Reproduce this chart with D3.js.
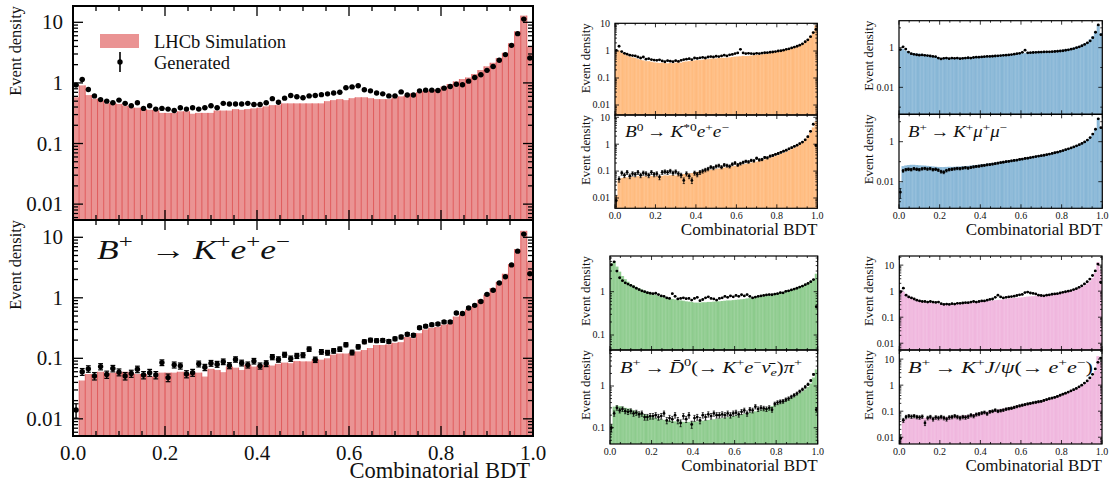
<!DOCTYPE html>
<meta charset="utf-8">
<style>
body { margin: 0; background: #fff; }
svg text { font-family: "Liberation Serif", "Times New Roman", serif; fill: #111; }
</style>
<body>
<script src="https://d3js.org/d3.v7.min.js"></script>
<script>
// 75 bins on [0, 1] of the combinatorial BDT output
const nBins = 75;
const xTicks = [0, 0.2, 0.4, 0.6, 0.8, 1.0];
const xTickLabels = ["0.0", "0.2", "0.4", "0.6", "0.8", "1.0"];

// B+ -> K+ e+ e-  (large panel)
const mainTopSim = [0.58,0.91,0.63,0.55,0.51, 0.46,0.47,0.45,0.42,0.39, 0.39,0.37,0.36,0.35,0.32, 0.32,0.32,0.34,0.34,0.31, 0.32,0.32,0.32,0.35,0.35,
  0.35,0.37,0.36,0.37,0.38, 0.39,0.41,0.43,0.43,0.46, 0.46,0.46,0.46,0.46,0.46, 0.46,0.50,0.52,0.54,0.52, 0.56,0.58,0.58,0.56,0.54,
  0.54,0.54,0.57,0.60,0.62, 0.67,0.70,0.73,0.74,0.78, 0.87,0.96,1.06,1.16,1.23, 1.40,1.63,1.88,2.15,2.58, 3.14,4.5,7.1,12.9,4.0];
const mainTopGen = [0.92,1.14,0.78,0.61,0.53, 0.50,0.47,0.52,0.46,0.42, 0.47,0.38,0.42,0.37,0.38, 0.37,0.35,0.39,0.37,0.39, 0.37,0.39,0.42,0.39,0.46,
  0.45,0.45,0.45,0.46,0.44, 0.44,0.47,0.55,0.48,0.56, 0.62,0.59,0.57,0.61,0.62, 0.64,0.66,0.68,0.70,0.83, 0.86,0.90,0.77,0.74,0.68,
  0.66,0.61,0.61,0.71,0.63, 0.63,0.74,0.76,0.76,0.75, 0.82,0.87,0.95,0.93,1.07, 1.23,1.36,1.61,1.86,2.37, 2.93,4.17,6.5,11.3,2.58];
const mainBotSim = [0.003,0.043,0.055,0.053,0.060, 0.056,0.058,0.058,0.060,0.056, 0.055,0.055,0.050,0.050,0.058, 0.058,0.058,0.060,0.056,0.056, 0.058,0.050,0.067,0.064,0.059,
  0.073,0.070,0.064,0.078,0.073, 0.076,0.078,0.076,0.081,0.085, 0.083,0.090,0.089,0.089,0.097, 0.095,0.10,0.115,0.12,0.12, 0.122,0.13,0.137,0.148,0.166,
  0.166,0.17,0.18,0.185,0.225, 0.215,0.26,0.30,0.32,0.33, 0.36,0.37,0.49,0.53,0.64, 0.72,0.93,1.13,1.45,1.83, 2.5,3.6,6.4,12.8,4.0];
const mainBotGen = [0.014,0.060,0.067,0.051,0.073, 0.054,0.068,0.059,0.051,0.056, 0.066,0.053,0.058,0.053,0.085, 0.048,0.078,0.075,0.055,0.058, 0.081,0.071,0.083,0.080,0.088,
  0.076,0.096,0.084,0.078,0.090, 0.075,0.082,0.105,0.096,0.115, 0.099,0.110,0.113,0.142,0.095, 0.128,0.124,0.133,0.142,0.168, 0.125,0.155,0.188,0.20,0.196,
  0.198,0.19,0.21,0.225,0.25, 0.24,0.32,0.34,0.36,0.37, 0.40,0.40,0.56,0.55,0.68, 0.75,0.87,1.14,1.33,1.76, 2.23,3.5,5.9,11.3,2.5];

// B0 -> K*0 e+ e-
const kstTopSim = [1.1,1.05,0.85,0.75,0.68, 0.62,0.58,0.55,0.5,0.47, 0.45,0.42,0.42,0.4,0.38, 0.37,0.36,0.37,0.36,0.35, 0.36,0.35,0.37,0.38,0.37,
  0.4,0.41,0.42,0.43,0.45, 0.46,0.46,0.48,0.5,0.5, 0.52,0.53,0.53,0.55,0.56, 0.56,0.57,0.58,0.6,0.62, 0.63,0.64,0.66,0.65,0.66,
  0.68,0.7,0.72,0.74,0.76, 0.78,0.8,0.83,0.86,0.9, 0.94,0.98,1.03,1.1,1.17, 1.25,1.35,1.47,1.62,1.8, 2.1,2.6,3.5,5.2,9.0];
const kstTopGen = [1.05,1.5,0.95,0.82,0.76, 0.7,0.68,0.66,0.6,0.55, 0.6,0.5,0.52,0.48,0.46, 0.45,0.47,0.43,0.4,0.44, 0.42,0.4,0.44,0.41,0.45,
  0.48,0.5,0.52,0.48,0.55, 0.53,0.56,0.58,0.55,0.6, 0.62,0.6,0.64,0.62,0.66, 0.7,0.66,0.72,0.75,0.8, 0.85,1.15,0.85,0.8,0.82,
  0.8,0.78,0.82,0.8,0.84, 0.86,0.87,0.9,0.92,0.95, 1.0,1.02,1.07,1.15,1.2, 1.3,1.4,1.5,1.65,1.85, 2.2,2.6,3.4,4.8,6.3];
const kstBotSim = [0.012,0.045,0.055,0.06,0.058, 0.06,0.062,0.06,0.065,0.062, 0.063,0.065,0.06,0.066,0.064, 0.065,0.068,0.066,0.07,0.068, 0.07,0.072,0.068,0.072,0.075,
  0.078,0.08,0.083,0.085,0.09, 0.094,0.098,0.1,0.104,0.108, 0.112,0.115,0.12,0.125,0.13, 0.135,0.14,0.145,0.15,0.157, 0.164,0.17,0.178,0.186,0.195,
  0.205,0.215,0.225,0.24,0.255, 0.27,0.29,0.31,0.33,0.36, 0.39,0.43,0.47,0.52,0.58, 0.65,0.73,0.83,0.95,1.1, 1.4,1.9,2.7,4.2,7.0];
const kstBotGen = [0.008,0.05,0.085,0.07,0.09, 0.065,0.08,0.075,0.09,0.07, 0.085,0.08,0.07,0.09,0.075, 0.08,0.06,0.09,0.095,0.09, 0.1,0.085,0.095,0.08,0.07,
  0.045,0.08,0.065,0.045,0.085, 0.075,0.09,0.1,0.11,0.12, 0.14,0.13,0.15,0.16,0.14, 0.17,0.16,0.15,0.18,0.2, 0.17,0.19,0.21,0.23,0.22,
  0.25,0.24,0.3,0.26,0.27, 0.32,0.31,0.36,0.38,0.42, 0.45,0.5,0.55,0.6,0.67, 0.74,0.83,0.92,1.05,1.2, 1.45,1.9,3.0,5.5,0.9];

// B+ -> K+ mu+ mu-
const mumuTopSim = [0.9,0.85,0.7,0.6,0.55, 0.52,0.5,0.5,0.48,0.45, 0.42,0.4,0.37,0.35,0.33, 0.3,0.3,0.29,0.3,0.3, 0.3,0.3,0.31,0.31,0.32,
  0.32,0.33,0.34,0.34,0.35, 0.36,0.37,0.38,0.38,0.4, 0.41,0.42,0.43,0.44,0.45, 0.46,0.47,0.48,0.49,0.5, 0.52,0.53,0.55,0.56,0.57,
  0.58,0.6,0.61,0.62,0.64, 0.66,0.68,0.7,0.72,0.75, 0.78,0.82,0.87,0.92,1.0, 1.1,1.22,1.38,1.6,1.9, 2.6,3.8,6.5,14,5.5];
const mumuTopGen = [0.8,1.1,0.85,0.6,0.5, 0.46,0.44,0.42,0.43,0.41, 0.4,0.38,0.36,0.35,0.3, 0.27,0.29,0.3,0.28,0.3, 0.29,0.3,0.28,0.29,0.3,
  0.31,0.3,0.32,0.33,0.33, 0.34,0.35,0.36,0.36,0.37, 0.38,0.39,0.4,0.41,0.42, 0.43,0.45,0.47,0.5,0.52, 0.58,0.75,0.55,0.56,0.57,
  0.58,0.59,0.6,0.61,0.62, 0.62,0.63,0.64,0.66,0.68, 0.7,0.74,0.78,0.84,0.9, 1.0,1.1,1.25,1.45,1.75, 2.2,3.2,6.0,14,4.5];
const mumuBotSim = [0.009,0.06,0.065,0.068,0.07, 0.07,0.068,0.066,0.065,0.064, 0.062,0.06,0.058,0.056,0.055, 0.054,0.054,0.055,0.056,0.055, 0.056,0.057,0.058,0.059,0.06,
  0.062,0.064,0.066,0.068,0.07, 0.073,0.076,0.079,0.082,0.086, 0.09,0.094,0.098,0.103,0.108, 0.113,0.118,0.124,0.13,0.137, 0.144,0.152,0.16,0.17,0.18,
  0.19,0.2,0.21,0.22,0.235, 0.25,0.27,0.29,0.31,0.34, 0.37,0.41,0.45,0.5,0.56, 0.63,0.72,0.83,0.98,1.2, 1.55,2.3,4.0,14,5.5];
const mumuBotGen = [0.003,0.035,0.04,0.042,0.04, 0.045,0.042,0.04,0.044,0.046, 0.043,0.045,0.04,0.042,0.038, 0.032,0.03,0.036,0.04,0.042, 0.044,0.046,0.045,0.048,0.05,
  0.048,0.052,0.055,0.058,0.06, 0.063,0.066,0.07,0.072,0.076, 0.08,0.085,0.09,0.095,0.1, 0.105,0.11,0.116,0.12,0.13, 0.135,0.145,0.15,0.16,0.17,
  0.18,0.19,0.2,0.21,0.225, 0.24,0.26,0.28,0.3,0.33, 0.36,0.4,0.44,0.49,0.55, 0.62,0.71,0.82,0.97,1.2, 1.6,2.4,4.2,14,5.0];

// B+ -> D0bar(-> K+ e- nu) pi+
const dTopSim = [4.5,5.0,3.8,2.9,2.3, 1.95,1.7,1.5,1.38,1.28, 1.2,1.12,1.05,1.0,0.95, 0.9,0.85,0.8,0.77,0.74, 0.72,0.7,0.68,0.66,0.64,
  0.63,0.62,0.6,0.59,0.58, 0.56,0.56,0.56,0.57,0.57, 0.58,0.58,0.59,0.6,0.6, 0.61,0.62,0.63,0.63,0.64, 0.65,0.66,0.67,0.68,0.7,
  0.71,0.72,0.73,0.75,0.77, 0.79,0.81,0.83,0.86,0.89, 0.92,0.95,0.99,1.03,1.07, 1.12,1.18,1.24,1.3,1.38, 1.46,1.56,1.7,1.95,2.6];
const dTopGen = [4.2,4.9,3.0,2.1,1.8, 1.6,1.5,1.4,1.3,1.2, 1.12,1.05,1.0,0.95,0.92, 0.9,0.92,0.86,0.8,0.78, 0.72,0.7,0.9,0.78,0.68,
  0.7,0.72,0.69,0.7,0.64, 0.7,0.74,0.62,0.66,0.72, 0.76,0.7,0.68,0.64,0.7, 0.72,0.78,0.74,0.8,0.76, 0.82,0.78,0.85,0.8,0.86,
  0.78,0.72,0.75,0.78,0.8, 0.82,0.84,0.86,0.85,0.88, 0.9,0.95,0.94,1.02,1.05, 1.1,1.15,1.2,1.28,1.35, 1.45,1.55,1.7,1.9,0.45];
const dBotSim = [0.12,0.32,0.34,0.33,0.32, 0.3,0.29,0.28,0.26,0.25, 0.23,0.22,0.21,0.2,0.19, 0.18,0.17,0.165,0.16,0.155, 0.15,0.148,0.145,0.142,0.14,
  0.14,0.138,0.138,0.138,0.14, 0.14,0.142,0.145,0.148,0.15, 0.153,0.156,0.16,0.163,0.167, 0.17,0.175,0.18,0.185,0.19, 0.195,0.2,0.207,0.214,0.222,
  0.23,0.238,0.247,0.257,0.268, 0.28,0.295,0.31,0.33,0.35, 0.37,0.39,0.42,0.45,0.48, 0.52,0.56,0.61,0.67,0.74, 0.83,0.95,1.15,1.6,2.5];
const dBotGen = [0.1,0.22,0.3,0.26,0.28, 0.25,0.24,0.25,0.22,0.23, 0.21,0.22,0.18,0.18,0.19, 0.19,0.2,0.18,0.19,0.22, 0.15,0.17,0.16,0.2,0.15,
  0.13,0.19,0.16,0.2,0.12, 0.17,0.18,0.15,0.2,0.18, 0.21,0.19,0.22,0.2,0.2, 0.21,0.2,0.22,0.2,0.22, 0.23,0.21,0.24,0.26,0.22,
  0.27,0.26,0.32,0.28,0.3, 0.29,0.28,0.3,0.27,0.37, 0.4,0.42,0.43,0.47,0.5, 0.55,0.6,0.66,0.74,0.83, 0.95,1.1,1.35,1.9,0.27];

// B+ -> K+ J/psi(-> e+ e-)
const jpsiTopSim = [1.1,0.95,0.78,0.66,0.58, 0.52,0.47,0.43,0.4,0.38, 0.37,0.36,0.35,0.34,0.33, 0.32,0.32,0.31,0.31,0.31, 0.31,0.32,0.32,0.33,0.34,
  0.35,0.36,0.37,0.38,0.39, 0.4,0.41,0.42,0.43,0.44, 0.45,0.46,0.47,0.48,0.5, 0.52,0.54,0.55,0.56,0.57, 0.58,0.6,0.62,0.63,0.64,
  0.66,0.67,0.68,0.7,0.72, 0.74,0.76,0.78,0.8,0.83, 0.86,0.9,0.95,1.0,1.08, 1.18,1.3,1.45,1.65,1.95, 2.4,3.2,5.0,13,6.5];
const jpsiTopGen = [0.95,1.3,0.7,0.6,0.55, 0.5,0.45,0.42,0.4,0.4, 0.38,0.4,0.38,0.37,0.38, 0.33,0.31,0.32,0.31,0.33, 0.32,0.34,0.34,0.35,0.36,
  0.36,0.38,0.4,0.38,0.4, 0.42,0.42,0.45,0.48,0.5, 0.58,0.7,0.6,0.55,0.58, 0.6,0.62,0.64,0.68,0.72, 0.75,0.88,0.92,0.85,0.82,
  0.78,0.7,0.68,0.66,0.7, 0.72,0.76,0.78,0.8,0.85, 0.9,0.95,1.0,1.05,1.15, 1.25,1.4,1.6,1.9,2.3, 2.9,4.0,6.0,11,2.2];
const jpsiBotSim = [0.008,0.05,0.052,0.053,0.054, 0.054,0.055,0.055,0.055,0.056, 0.056,0.057,0.057,0.058,0.058, 0.059,0.06,0.06,0.061,0.062, 0.063,0.064,0.066,0.068,0.07,
  0.072,0.075,0.078,0.081,0.084, 0.088,0.092,0.096,0.1,0.105, 0.11,0.115,0.12,0.126,0.132, 0.138,0.145,0.152,0.16,0.168, 0.176,0.185,0.195,0.205,0.215,
  0.226,0.238,0.25,0.265,0.28, 0.3,0.32,0.34,0.37,0.4, 0.43,0.47,0.52,0.57,0.63, 0.7,0.8,0.92,1.08,1.3, 1.65,2.2,3.5,13,8.0];
const jpsiBotGen = [0.009,0.045,0.06,0.065,0.062, 0.065,0.06,0.058,0.062,0.035, 0.055,0.06,0.05,0.058,0.055, 0.06,0.055,0.05,0.058,0.06, 0.065,0.06,0.055,0.06,0.058,
  0.062,0.07,0.065,0.075,0.078, 0.085,0.09,0.08,0.095,0.1, 0.11,0.1,0.105,0.11,0.12, 0.125,0.13,0.14,0.15,0.16, 0.17,0.18,0.19,0.2,0.21,
  0.22,0.23,0.24,0.26,0.28, 0.3,0.32,0.34,0.37,0.41, 0.45,0.49,0.54,0.6,0.67, 0.75,0.86,1.0,1.2,1.45, 1.9,2.6,4.2,7.5,11];

// decay labels: [text, style]  i = italic, ^ = superscript, _ = subscript
const arrow = "\u2009\u2192\u2009";
const titleKee = [["B","i"],["+","^"],["\u2002\u2192\u2009",""],["K","i"],["+","^"],["e","i"],["+","^"],["e","i"],["\u2212","^"]];
const titleKst = [["B","i"],["0","^"],[arrow,""],["K","i"],["*0","^"],["e","i"],["+","^"],["e","i"],["\u2212","^"]];
const titleMumu = [["B","i"],["+","^"],[arrow,""],["K","i"],["+","^"],["\u03bc","i"],["+","^"],["\u03bc","i"],["\u2212","^"]];
const titleD = [["B","i"],["+","^"],[arrow,""],["D\u0304","i"],["0","^"],["(\u2192\u2009",""],["K","i"],["+","^"],["e","i"],["\u2212","^"],["\u03bd\u0304","i"],["e","_i"],[")",""],["\u03c0","i"],["+","^"]];
const titleJpsi = [["B","i"],["+","^"],[arrow,""],["K","i"],["+","^"],["J","i"],["/",""],["\u03c8","i"],["(\u2192\u2009",""],["e","i"],["+","^"],["e","i"],["\u2212","^"],[")",""]];

const colors = {
  red:    {fill: "#ea9393", edge: "#d62728"},
  orange: {fill: "#ffbf86", edge: "#ff7f0e"},
  blue:   {fill: "#8fbbd9", edge: "#1f77b4"},
  green:  {fill: "#95cf95", edge: "#2ca02c"},
  pink:   {fill: "#f1bbe0", edge: "#e377c2"}
};

const svg = d3.select("body").append("svg").attr("width", 1112).attr("height", 488)
  .attr("font-family", "Liberation Serif, serif");
const defs = svg.append("defs");
let clipN = 0;

function decLabel(k) {
  return k >= 0 ? String(Math.pow(10, k)) : "0." + "0".repeat(-k - 1) + "1";
}

// math-like label, stretched horizontally to the width seen in the figure
function mathText(parent, segs, x, y, size, width) {
  const t = parent.append("text").attr("x", x).attr("y", y).attr("font-size", size);
  let shift = 0;
  segs.forEach(([s, st]) => {
    const target = st.includes("^") ? -0.42 * size : st.includes("_") ? 0.2 * size : 0;
    const ts = t.append("tspan").text(s).attr("dy", target - shift);
    shift = target;
    if (st.includes("i")) ts.attr("font-style", "italic");
    if (st.includes("^") || st.includes("_")) ts.attr("font-size", size * 0.7);
  });
  const w = t.node().getBBox().width;
  t.attr("transform", `translate(${x},0) scale(${width / w},1) translate(${-x},0)`);
  return t;
}

function drawSub(p) {
  const big = p.big;
  const col = colors[p.c];
  const x = d3.scaleLinear().domain([0, 1]).range([p.x0, p.x1]);
  const y = d3.scaleLog().domain([Math.pow(10, p.lo), Math.pow(10, p.hi)]).range([p.y1, p.y0]);
  const id = "clip" + (clipN++);
  defs.append("clipPath").attr("id", id).append("rect")
    .attr("x", p.x0).attr("y", p.y0).attr("width", p.x1 - p.x0).attr("height", p.y1 - p.y0);
  const g = svg.append("g").attr("clip-path", `url(#${id})`);
  const bw = 1 / nBins;
  const top = d => Math.min(y(d), p.y1 + 2);

  g.append("g").selectAll("rect").data(p.sim).join("rect")
    .attr("x", (d, i) => x(i * bw)).attr("width", x(bw) - x(0))
    .attr("y", d => top(d)).attr("height", d => Math.max(0, p.y1 - top(d)))
    .attr("fill", col.fill);

  // one edge line per bin boundary, up to the taller neighbour
  const edges = d3.range(nBins + 1).map(j => [j * bw, Math.max(p.sim[j - 1] || 1e-9, p.sim[j] || 1e-9)]);
  g.append("g").selectAll("line").data(edges).join("line")
    .attr("x1", d => x(d[0])).attr("x2", d => x(d[0]))
    .attr("y1", p.y1).attr("y2", d => top(d[1]))
    .attr("stroke", col.edge).attr("stroke-opacity", big ? 0.6 : 0.3)
    .attr("stroke-width", big ? 1 : 0.5);

  // generated points with poisson-like errors
  const pts = p.gen.map((v, i) => {
    const s = Math.sqrt(v * p.err);
    return {cx: x((i + 0.5) * bw), v, lo: Math.max(v - s, 1e-6), hi: v + s};
  });
  const r = big ? 2.7 : 1.4, cap = big ? 2.4 : 1.1;
  const gp = g.append("g");
  gp.selectAll("line.e").data(pts).join("line").attr("class", "e")
    .attr("x1", d => d.cx).attr("x2", d => d.cx)
    .attr("y1", d => Math.min(y(d.lo), p.y1 + 5)).attr("y2", d => y(d.hi))
    .attr("stroke", "#000").attr("stroke-width", big ? 1.4 : 0.8);
  ["lo", "hi"].forEach(k => {
    gp.selectAll("line.c" + k).data(pts).join("line").attr("class", "c" + k)
      .attr("x1", d => d.cx - cap).attr("x2", d => d.cx + cap)
      .attr("y1", d => y(d[k])).attr("y2", d => y(d[k]))
      .attr("stroke", "#000").attr("stroke-width", big ? 1.2 : 0.7);
  });
  gp.selectAll("circle").data(pts).join("circle")
    .attr("cx", d => d.cx).attr("cy", d => y(d.v)).attr("r", r).attr("fill", "#000");

  // frame and ticks
  const ax = svg.append("g").attr("stroke", "#000");
  ax.append("rect").attr("x", p.x0).attr("y", p.y0).attr("width", p.x1 - p.x0).attr("height", p.y1 - p.y0)
    .attr("fill", "none").attr("stroke-width", big ? 2 : 1.2);
  const tw = big ? 1.3 : 0.8;
  const majL = big ? 10 : 4, minL = big ? 5 : 2;
  const xMinor = d3.range(0, 21).map(i => i * 0.05).filter(v => Math.round(v * 100) % 20 !== 0);
  const tick = (x1, y1, x2, y2) => ax.append("line").attr("x1", x1).attr("y1", y1).attr("x2", x2).attr("y2", y2).attr("stroke-width", tw);
  xTicks.forEach(v => { tick(x(v), p.y1, x(v), p.y1 - majL); tick(x(v), p.y0, x(v), p.y0 + majL); });
  xMinor.forEach(v => { tick(x(v), p.y1, x(v), p.y1 - minL); tick(x(v), p.y0, x(v), p.y0 + minL); });
  const yMaj = [], yMin = [];
  for (let k = Math.floor(p.lo); k <= Math.ceil(p.hi); k++) {
    if (p.majors.includes(k)) yMaj.push(k);
    else if (p.sparse) yMin.push(Math.pow(10, k));
    if (!p.sparse) for (let m = 2; m <= 9; m++) yMin.push(m * Math.pow(10, k));
  }
  const inY = v => Math.log10(v) >= p.lo && Math.log10(v) <= p.hi;
  yMaj.filter(k => inY(Math.pow(10, k))).forEach(k => {
    const yy = y(Math.pow(10, k));
    tick(p.x0, yy, p.x0 + majL, yy); tick(p.x1, yy, p.x1 - majL, yy);
    svg.append("text").attr("x", p.x0 - (big ? 10 : 5)).attr("y", yy).attr("dy", "0.34em")
      .attr("text-anchor", "end").attr("font-size", big ? 21 : 10).text(decLabel(k));
  });
  yMin.filter(inY).forEach(v => {
    const yy = y(v);
    tick(p.x0, yy, p.x0 + minL, yy); tick(p.x1, yy, p.x1 - minL, yy);
  });

  if (p.xlabels) {
    xTicks.forEach((v, i) => {
      svg.append("text").attr("x", x(v)).attr("y", p.y1 + (big ? 23.5 : 10.5))
        .attr("text-anchor", "middle").attr("font-size", big ? 21 : 10).text(xTickLabels[i]);
    });
    svg.append("text").attr("x", p.x1 - (big ? 3 : 0)).attr("y", p.y1 + (big ? 41.5 : 27))
      .attr("text-anchor", "end").attr("font-size", big ? 22.5 : 17).text("Combinatorial BDT");
  }
  svg.append("text").attr("transform", `translate(${p.ylab},${p.y0}) rotate(-90)`)
    .attr("text-anchor", "end").attr("font-size", big ? 16.4 : 12.8).attr("fill", "#222")
    .text("Event density");
}

const panels = [
  {x0: 73, x1: 533, y0: 6, y1: 220, lo: -2.262, hi: 1.269, sim: mainTopSim, gen: mainTopGen, err: 2e-5, c: "red", big: true, majors: [-2, -1, 0, 1], ylab: 20.5},
  {x0: 73, x1: 533, y0: 220, y1: 436, lo: -2.284, hi: 1.286, sim: mainBotSim, gen: mainBotGen, err: 1e-3, c: "red", big: true, majors: [-2, -1, 0, 1], ylab: 20.5, xlabels: true},
  {x0: 615, x1: 817.3, y0: 23.3, y1: 115, lo: -2.37, hi: 1.026, sim: kstTopSim, gen: kstTopGen, err: 1e-4, c: "orange", majors: [-2, -1, 0, 1], ylab: 590},
  {x0: 615, x1: 817.3, y0: 115, y1: 208.3, lo: -2.383, hi: 1.085, sim: kstBotSim, gen: kstBotGen, err: 2.5e-3, c: "orange", majors: [-2, -1, 0, 1], ylab: 590, xlabels: true},
  {x0: 899, x1: 1102.3, y0: 20.7, y1: 114.3, lo: -3.36, hi: 1.36, sim: mumuTopSim, gen: mumuTopGen, err: 5e-5, c: "blue", majors: [-2, 0], sparse: true, ylab: 873},
  {x0: 899, x1: 1102.3, y0: 114.3, y1: 208.3, lo: -3.33, hi: 1.37, sim: mumuBotSim, gen: mumuBotGen, err: 8e-4, c: "blue", majors: [-2, 0], sparse: true, ylab: 873, xlabels: true},
  {x0: 610, x1: 817.7, y0: 256, y1: 350, lo: -1.346, hi: 0.824, sim: dTopSim, gen: dTopGen, err: 2e-4, c: "green", majors: [-1, 0], ylab: 589.5},
  {x0: 610, x1: 817.7, y0: 350, y1: 444, lo: -1.39, hi: 0.863, sim: dBotSim, gen: dBotGen, err: 4.5e-3, c: "green", majors: [-1, 0], ylab: 589.5, xlabels: true},
  {x0: 899.3, x1: 1102, y0: 256, y1: 350, lo: -2.26, hi: 1.35, sim: jpsiTopSim, gen: jpsiTopGen, err: 5e-5, c: "pink", majors: [-2, -1, 0, 1], ylab: 873},
  {x0: 899.3, x1: 1102, y0: 350, y1: 444, lo: -2.26, hi: 1.35, sim: jpsiBotSim, gen: jpsiBotGen, err: 1.4e-3, c: "pink", majors: [-2, -1, 0, 1], ylab: 873, xlabels: true}
];
panels.forEach(drawSub);

// legend in the large panel
const lg = svg.append("g");
lg.append("rect").attr("x", 100).attr("y", 34).attr("width", 39).attr("height", 14).attr("fill", colors.red.fill);
lg.append("text").attr("x", 154).attr("y", 47.5).attr("font-size", 18.5).text("LHCb Simulation");
lg.append("line").attr("x1", 120).attr("x2", 120).attr("y1", 52).attr("y2", 72).attr("stroke", "#000").attr("stroke-width", 1.6);
lg.append("circle").attr("cx", 120).attr("cy", 62).attr("r", 2.7).attr("fill", "#000");
lg.append("text").attr("x", 154).attr("y", 68.5).attr("font-size", 18.5).text("Generated");

// decay labels
mathText(svg, titleKee, 97, 259.3, 27, 193);
mathText(svg, titleKst, 625, 137.3, 16, 104);
mathText(svg, titleMumu, 908, 137.3, 16, 99);
mathText(svg, titleD, 620, 372.7, 16, 182);
mathText(svg, titleJpsi, 908, 373, 16, 185);
</script>
</body>
